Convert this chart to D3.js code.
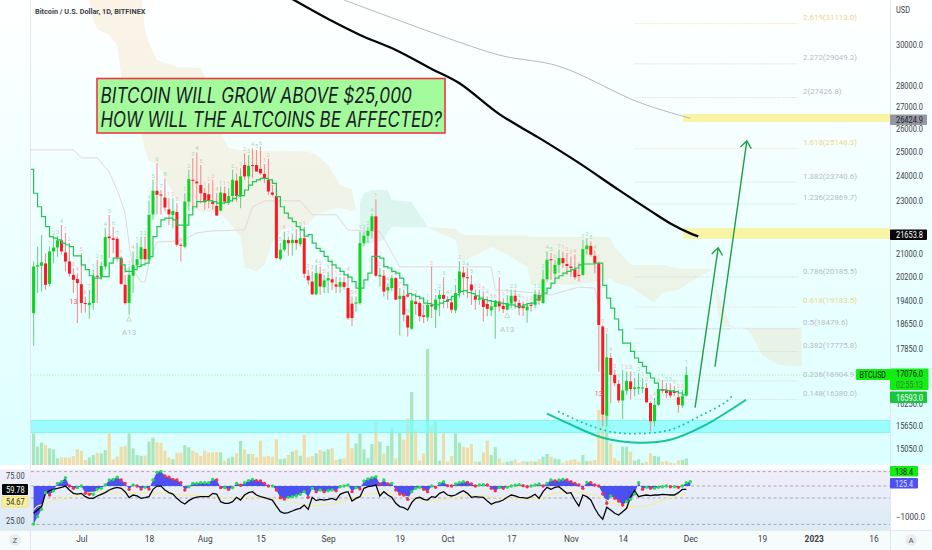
<!DOCTYPE html>
<html>
<head>
<title>Bitcoin / U.S. Dollar, 1D, BITFINEX</title>
<script src="https://d3js.org/d3.v7.min.js"></script>
<style>
html, body { margin: 0; padding: 0; background: #fff; overflow: hidden; }
text { font-family: Roboto, Arial, sans-serif; }
</style>
</head>
<body>
<div id="vis"></div>
<script>
// daily candles, first one is 19 Jun 2022
var opens = [18980,20550,20580,20660,19950,21090,21230,21490,21050,20730,20260,20120,19940,19310,19240,19310,20230,20200,20550,21630,21570,21550,20850,19920,19310,20230,20600,20810,21180,20810,22460,23390,23240,23120,22660,22440,22560,21330,21260,22960,23830,23760,23620,23300,23250,22960,22790,22610,23290,22920,23180,23800,23160,24440,23970,24440,24440,24280,24070,23830,23320,23180,20820,21150,21500,21390,21510,21350,21570,20230,
 20030,19600,20300,19840,20070,20110,19930,19850,20010,19810,19290,19290,19310,21390,21660,21840,22390,20200,20230,19730,19810,20150,19440,19550,18900,18480,19360,19310,18910,18840,19250,19090,19440,19580,19420,19330,19070,19640,20340,20180,19930,19550,19420,19440,19280,19070,19180,19360,19220,19090,19290,19550,19310,19220,19070,19250,19250,19580,19310,20110,20810,20300,20610,20850,20640,20550,20460,20260,20260,21170,21290,20930,
 20670,18550,15930,17580,17080,16820,16350,16630,16890,16670,16690,16690,16700,16280,15780,16230,16670,16650,16620,16620,16440,16210,16490];
var highs = [20730,21260,21690,21020,21260,21630,21650,22060,21760,21390,20490,20320,21020,19530,19750,20440,20790,20730,21940,22450,22000,21630,20920,20260,20550,21090,21390,21630,21630,23000,23830,24520,23420,23890,23090,23090,22900,21390,23290,24240,24720,24970,24440,23490,23690,23830,23290,23560,23560,23490,24240,24100,24310,24930,24860,25150,25080,25220,24470,24700,23620,23230,21390,21820,21630,21750,21900,21940,22000,20440,
 20380,20610,20550,20260,20380,20610,20200,20180,20200,20320,19530,19530,21820,21820,22000,22490,23050,20500,20440,19980,20260,20200,19810,19750,18930,19580,19530,19360,19250,19420,20550,19580,19750,20180,19530,19550,19920,20730,20550,20500,20260,19750,19750,19690,19530,19420,19420,20180,19470,19580,19750,19750,19420,19360,19310,19360,19750,19750,20440,21090,21030,20790,21150,21090,21030,20910,20970,20500,21510,21570,21450,21120,
 20730,18600,18330,17730,17230,16940,17230,17180,17180,16990,17130,16990,16840,16330,16420,16820,16940,16840,16840,16750,16650,16650,17330];
var lows = [17950,19640,19690,19750,19860,20670,20900,20970,20380,20200,19640,18660,18980,19000,18800,19090,19310,20090,20440,20850,21020,20730,19920,19260,18930,19640,20550,20550,20730,20760,22260,22460,22460,22580,22060,21940,21260,20730,21200,22580,22640,22700,22900,22640,22700,22640,22420,22580,22900,22830,22960,22960,22700,23830,23620,23900,24170,24030,23690,23230,23160,20810,20760,21090,20930,20930,21150,21260,20150,19920,
 19580,19580,19580,19640,19640,19750,19640,19640,19750,18760,18570,19030,19250,21270,21390,21570,20180,19860,19530,19420,19700,19420,18270,18710,18240,18450,18930,18710,18660,18710,18820,18500,18880,19140,19140,18980,18980,19470,19580,19470,19250,19090,19250,18710,18880,18880,18170,19030,18980,19070,19140,19120,18900,18880,18680,19030,19140,19250,19290,20030,20090,20180,20320,20500,20260,20200,20090,20030,20230,20970,20910,20320,
 17170,15640,15640,16280,16750,16280,15840,16510,16370,16470,16510,16560,16280,15510,15640,16190,16560,16420,16420,16470,16020,16140,16470];
var closes = [20550,20600,20700,19920,21090,21230,21490,21090,20730,20300,20090,19980,19310,19280,19320,20210,20200,20570,21610,21570,21510,20870,19950,19310,20260,20600,20810,21240,20810,22450,23390,23230,23200,22730,22470,22600,21330,21300,22960,23860,23800,23690,23290,22940,23000,22870,22420,23320,22960,23180,23830,23180,23970,23970,24410,24400,24170,24100,23870,23360,23230,20850,21150,21510,21390,21510,21390,21570,20300,20070,
 19600,20320,19860,20070,20150,20000,19860,20010,19850,18820,18820,19330,21390,21660,21840,22390,20230,20260,19690,19840,20150,19420,19550,18930,18520,19390,19280,18880,18860,19250,19200,19420,19580,19450,19360,19090,19640,20380,20180,20150,19730,19420,19470,19180,19120,19200,19390,19200,19110,19310,19550,19360,19140,19140,19200,19220,19600,19390,20110,20790,20790,20610,20850,20670,20570,20500,20180,20230,21170,21300,20970,20670,
 18600,15960,17600,17080,16840,16350,16630,16910,16670,16720,16730,16720,16300,15780,16230,16670,16630,16560,16490,16560,16230,16470,17080];
var volumes = [95,55,67,60,50,47,20,23,23,22,27,47,43,15,23,30,37,35,45,95,17,25,55,57,95,50,30,28,28,70,82,68,67,43,23,17,37,37,60,53,43,37,27,43,37,38,39,38,13,20,25,35,72,47,33,33,23,73,25,27,25,77,18,19,30,40,45,28,90,23,27,35,45,40,47,50,15,18,20,95,50,65,95,47,20,63,129,70,35,57,110,20,97,77,140,219,103,13,35,348,120,130,13,95,10,27,95,67,55,52,
 63,10,10,38,73,30,53,20,7,10,12,17,7,12,10,12,10,17,25,33,25,19,17,7,13,15,17,10,30,12,13,15,165,147,165,65,20,13,55,55,40,13,17,5,10,35,27,25,10,12,7,5,14,15,20];

// conversion line, first value belongs to the day before the first candle
var stepLine = [24260,23290,22760,22380,22000,21630,21570,21510,21390,21330,21260,20930,20930,20610,20440,20230,20150,20150,20200,20200,20670,20850,20850,20610,20380,20380,20440,20550,20610,20670,20900,21630,22000,22255,22320,22320,22255,22060,22060,22060,22450,22760,22960,22960,23000,23000,22960,22900,22900,22930,22990,23090,23200,23200,23420,23620,23760,23830,23890,23890,23830,23690,23160,22760,22510,22320,22190,22000,21880,21650,21700,
 21390,21200,21090,20910,20730,20610,20500,20380,20260,20180,20030,19810,19810,20090,20320,20910,20910,20850,20550,20500,20380,20320,20150,19920,19620,19580,19530,19470,19310,19290,19250,19250,19310,19360,19420,19530,19580,19700,19720,19660,19620,19550,19470,19420,19390,19360,19330,19310,19290,19250,19250,19200,19200,19250,19290,19310,19420,19550,19640,19810,19980,20150,20230,20320,20380,20440,20500,20610,20640,20640,20640,20670,20670,
 19900,19470,19140,18790,18447,18030,18030,17780,17580,17450,17330,17130,16990,16840,16650,16650,16630,16620,16600,16560,16510,16540];
var baseLine = [[-1,25079],[10,25079],[12,24740],[16,24740],[19,24150],[21,23424],[23,22520],[24,21360],[25,20436],[27,20020],[28,20020],[29,20680],[31,21430],[37,21470],[41,21770],[45,21840],[53,21879],[55,22750],[58,22990],[67,22990],[70,22450],[76,22450],[79,21879],[87,21810],[90,21040],[92,20540],[115,20540],[116,19750],[126,19650],[130,19580],[137,19840],[141,19810],[142,19190]];
var blackMa = [[63,32700],[75,31250],[82,30520],[91,29745],[100,28800],[107,28100],[117,26660],[127,25600],[137,24530],[147,23424],[155,22600],[160,22120],[165,21750],[167,21640]];
var grayMa = [[78,32395],[107,30140],[118,29440],[132,28930],[152,27210],[165,26470]];

// cloud rows: day, upper, lower
var cloudA = [[14,32950,32395],[15,32950,31308],[16,32950,30830],[19,32950,30520],[21,32950,30000],[22,32950,28500],[23,32950,26760],[27,32950,25820],[28,30778,25079],[29,30100,24610],[31,29242,24530],[36,28890,23028],[42,28840,22560],[44,28020,22560],[47,25820,22450],[49,25160,22180],[52,25079,21620],[53,25079,20540],[56,25040,20370],[58,25040,20610],[60,25040,21430],[63,25040,21950],[69,25000,22070],[71,24870,22450],[74,24450,22638],[77,23620,22710],[80,23424,22600],[81,22638,22638]];
var cloudB = [[82,22910,21250],[83,23300,21330],[85,23424,21400],[88,23424,21509],[89,23424,21810],[90,23028,21990],[95,22950,21990],[97,22450,21990],[99,22030,21990]];
var cloudC = [[99,21990,21950],[106,21920,21509],[107,21770,20890],[108,21690,20720],[110,21690,20890],[115,21660,21250],[120,21660,20890],[124,21660,20540],[125,21620,19920],[136,21620,19920],[144,21620,20090],[145,21580,20160],[146,21250,19990],[150,20610,19850],[156,20610,19320],[158,20610,19650],[162,20470,19750],[167,20470,20190],[170,20470,20400],[171,20260,20260]];
var cloudD = [[171,19850,19850],[172,19680,18930],[173,19250,18540],[175,18600,18540],[176,18540,18510],[178,18510,18510],[180,18510,18385],[183,18510,17680],[187,18510,17380],[193,18510,17320]];

var fibRatios = ["2.619","2.272","2","1.618","1.382","1.236","0.786","0.618","0.5","0.382","0.236","0.148"];
var fibPrices = [31113.0,29049.2,27426.8,25148.3,23740.6,22869.7,20185.5,19183.5,18479.6,17775.8,16904.9,16380.0];
var fibGold = ["2.619","1.618","0.618"];

var priceTicks = [30000,28000,27000,26000,25000,24000,23000,21000,20200,19400,18650,17850,16250,15650,15050];
var dayTicks = [12,29,43,57,74,92,104,120,135,148,165,183,196,211];
var dayLabels = ["Jul","18","Aug","15","Sep","19","Oct","17","Nov","14","Dec","19","2023","16"];

var cupSolid = [[129,15985],[135,15688],[143,15343],[152,15214],[160,15291],[168,15634],[179,16371]];
var cupDotted = [[132,16040],[138,15742],[145,15500],[152,15450],[160,15554],[168,15956],[174,16315],[176,16540]];
var arrowA = [[166.2,16150],[172,21220]];
var arrowB = [[171.2,17320],[179.2,25470]];

// lower pane: oscillator (right scale), rsi and its average (left scale)
var oscValues = [-1226,-989,-753,-215,-290,-161,86,140,269,0,-75,-54,0,-237,-269,-269,-108,-75,32,194,215,280,194,86,-108,32,0,-97,-43,-97,194,441,484,323,280,215,194,108,-129,-22,86,86,108,108,108,215,194,-54,-54,-108,-54,86,22,108,172,215,172,161,86,0,0,-129,-376,-419,-366,-344,-312,-269,-183,-366,-75,-183,-129,-183,-151,-129,-151,-22,0,32,-183,-54,-97,161,226,269,301,65,194,65,86,-129,-258,-290,-430,-183,-75,-43,-108,-183,0,-43,86,140,11,0,65,108,140,118,65,
 0,32,43,32,-75,-151,-54,-75,-43,0,22,43,11,-22,0,32,65,0,86,194,161,194,215,194,140,86,32,-75,118,108,32,0,-258,-559,-322,-398,-484,-613,-505,-430,-258,108,-108,-43,-75,-75,-43,-22,0,-22,-22,-43,0,108,138];
var rsiValues = [32.6,36.4,40.2,55.3,58.3,59.8,61,62.1,63.6,59.1,55.3,54.5,55.3,51.5,49.6,49.6,52.3,54.2,56.1,59.1,61,62.1,61,57.2,50.4,53.4,52.3,49.6,50.4,51.5,59.8,63.6,63.6,59.1,56.1,54.5,49.6,45.8,43.2,47,49.6,51.1,51.5,51.5,51.5,55.3,54.5,45.8,43.9,43.9,45.8,50.8,47.7,53.4,56.1,57.2,53.4,51.5,50.4,48.9,47.7,40.9,34.5,32.6,33.3,35.2,37.1,38.3,42,37.1,50.8,47,48.5,47.7,48.5,49.6,47.7,54.2,56.1,57.2,46.6,49.6,51.5,61,62.9,63.6,64.8,52.3,57.2,53.4,50.8,43.9,40.2,39,36.4,44.7,49.6,50.8,48.5,47.7,51.5,50.8,55.3,57.2,53.4,52.3,53.4,56.1,58.3,55.3,
 50.8,51.5,51.1,50.8,46.6,42.8,45.1,45.8,47.7,50.8,53.4,52.3,50.8,50.4,49.6,51.5,54.2,49.6,57.2,62.1,59.8,62.1,62.9,59.1,55.3,56.1,47.7,40.9,53.4,51.5,47.7,38.3,30.7,25.8,39.4,36.4,32.6,30.7,34.5,38.3,51.5,58.3,51.5,52.7,53.4,52.7,53.4,53.4,54.2,53.8,53.4,53.4,56.1,59.8,59.78];
var rsiAverage = [[0,36.4],[1,40.9],[3,43.2],[5,47.7],[7,49.6],[10,52.3],[12,54.5],[14,56.1],[18,57.2],[21,56.1],[25,55.3],[29,56.1],[33,55.3],[38,53.4],[42,52.7],[46,51.5],[50,49.6],[54,50.8],[58,49.6],[63,47.7],[67,43.2],[71,41.3],[75,43.2],[79,48.5],[83,53.4],[88,56.1],[92,53.4],[97,48.5],[101,47],[105,49.6],[109,52.7],[115,51.5],[119,49.6],[127,49.6],[131,55.3],[135,57.2],[140,54.5],[143,49.6],[146,43.9],[150,40.2],[155,42],[158,47.7],[164,54.67]];

var width = 932, height = 550;
var svg = d3.select('#vis').append('svg').attr('width', width).attr('height', height).style('display', 'block');
var defs = svg.append('defs');

var x = d3.scaleLinear().domain([0, 165]).range([33.6, 690.3]);
var y = d3.scaleLog().domain([15050, 30000]).range([449, 45]);
var yVol = d3.scaleLinear().domain([0, 300]).range([465, 365]);
var yRsi = d3.scaleLinear().domain([20, 80]).range([524.4, 471.6]);
var yOsc = d3.scaleLinear().domain([-1000, 0]).range([517, 486]);

function gradient(id, stops) {
    var g = defs.append('linearGradient').attr('id', id).attr('x1', 0).attr('x2', 0).attr('y1', 0).attr('y2', 1);
    stops.forEach(function(s) { g.append('stop').attr('offset', s[0]).attr('stop-color', s[1]); });
}
gradient('bgMain', [[0, '#ffffff'], [1, '#dcffff']]);
gradient('bgPane', [[0, '#f0eefa'], [1, '#dbebf6']]);
defs.append('clipPath').attr('id', 'plot').append('rect').attr('x', 31).attr('y', 0).attr('width', 859).attr('height', 465);
defs.append('marker').attr('id', 'head').attr('viewBox', '-9 -6 11 12').attr('markerWidth', 11).attr('markerHeight', 12)
    .attr('markerUnits', 'userSpaceOnUse').attr('orient', 'auto')
    .append('path').attr('d', 'M-7,-5.5L0,0L-7,5.5').attr('fill', 'none').attr('stroke', '#1f9e45').attr('stroke-width', 1.4);

// backgrounds
svg.append('rect').attr('width', width).attr('height', 465).attr('fill', 'url(#bgMain)');
svg.append('rect').attr('y', 530).attr('width', width).attr('height', 20).attr('fill', '#f6fbfc');
svg.append('rect').attr('y', 470).attr('width', 890).attr('height', 60).attr('fill', 'url(#bgPane)');

var plot = svg.append('g').attr('clip-path', 'url(#plot)');

// volume
plot.selectAll('.vol').data(volumes).enter().append('rect').attr('class', 'vol')
    .attr('x', function(d, i) { return x(i) - 1.6; })
    .attr('width', 3.2)
    .attr('y', function(d) { return yVol(d); })
    .attr('height', function(d) { return yVol(0) - yVol(d); })
    .attr('fill', function(d, i) { return closes[i] >= opens[i] ? '#a9e6bd' : '#f0dca8'; });

// support band
plot.append('rect').attr('x', 31).attr('width', 859)
    .attr('y', y(15795)).attr('height', y(15475) - y(15795))
    .attr('fill', '#7dfcfc').attr('fill-opacity', 0.7).attr('stroke', '#6ff2f2').attr('stroke-width', 0.7);

// cloud
var cloudArea = d3.area().x(function(d) { return x(d[0]); }).y0(function(d) { return y(d[2]); }).y1(function(d) { return y(d[1]); });
[cloudA, cloudC, cloudD].forEach(function(c) {
    plot.append('path').attr('d', cloudArea(c)).attr('fill', '#f2cd9a').attr('fill-opacity', 0.24);
});
plot.append('path').attr('d', cloudArea(cloudB)).attr('fill', '#9fd8bb').attr('fill-opacity', 0.24);

// fib levels
fibPrices.forEach(function(p, k) {
    var gold = fibGold.indexOf(fibRatios[k]) >= 0;
    plot.append('line').attr('x1', x(151)).attr('x2', 798).attr('y1', y(p)).attr('y2', y(p))
        .attr('stroke', gold ? '#f4dfae' : '#d4d7de').attr('stroke-width', 0.8).attr('stroke-dasharray', '1.5 1');
    svg.append('text').attr('x', 803).attr('y', y(p) - 3.5)
        .attr('font-size', 7.9).attr('fill', gold ? '#f0d48c' : '#b7bcc6')
        .text(fibRatios[k] + '(' + p.toFixed(1) + ')');
});
plot.append('line').attr('x1', x(151)).attr('x2', 730).attr('y1', y(18479.6)).attr('y2', y(18479.6)).attr('stroke', '#dddcec').attr('stroke-width', 1);

// close price line
plot.append('line').attr('x1', 31).attr('x2', 890).attr('y1', y(17076)).attr('y2', y(17076))
    .attr('stroke', '#b5edb5').attr('stroke-width', 1).attr('stroke-dasharray', '1.5 1.5');

// pale base line
var pts = d3.line().x(function(d) { return x(d[0]); }).y(function(d) { return y(d[1]); });
plot.append('path').attr('d', pts(baseLine)).attr('fill', 'none').attr('stroke', '#e6d6d8').attr('stroke-width', 1);

// candles
var idx = d3.range(closes.length);
plot.selectAll('.wick').data(idx).enter().append('line').attr('class', 'wick')
    .attr('x1', function(i) { return x(i); }).attr('x2', function(i) { return x(i); })
    .attr('y1', function(i) { return y(highs[i]); }).attr('y2', function(i) { return y(lows[i]); })
    .attr('stroke', function(i) { return closes[i] >= opens[i] ? '#6fd48c' : '#f58f94'; }).attr('stroke-width', 1.1);
plot.selectAll('.body').data(idx).enter().append('rect').attr('class', 'body')
    .attr('x', function(i) { return x(i) - 1.5; }).attr('width', 3)
    .attr('y', function(i) { return y(Math.max(opens[i], closes[i])); })
    .attr('height', function(i) { return Math.max(1, Math.abs(y(opens[i]) - y(closes[i]))); })
    .attr('fill', function(i) { return closes[i] >= opens[i] ? '#0fd41f' : '#ff1722'; });

// tiny setup counts above the candles
var up = 0, dn = 0;
idx.forEach(function(i) {
    if (i < 4) return;
    if (closes[i] > closes[i - 4]) { up = up % 9 + 1; dn = 0; } else if (closes[i] < closes[i - 4]) { dn = dn % 9 + 1; up = 0; }
    plot.append('text').attr('x', x(i)).attr('y', y(highs[i]) - 2).attr('text-anchor', 'middle')
        .attr('font-size', 5.5).attr('fill', up ? '#9fdcb4' : '#f5b8bb').text(up || dn);
});
[[10, 19285], [142, 16480]].forEach(function(m) {
    svg.append('text').attr('x', x(m[0])).attr('y', y(m[1])).attr('text-anchor', 'middle').attr('font-size', 7.5).attr('fill', '#f0616d').text('13');
});
[[24, 18790], [119, 18900]].forEach(function(m) {
    plot.append('path').attr('transform', 'translate(' + x(m[0]) + ',' + y(m[1]) + ')').attr('d', 'M-2.5,2L0,-2.5L2.5,2Z').attr('fill', 'none').attr('stroke', '#c7d9ad').attr('stroke-width', 0.9);
    svg.append('text').attr('x', x(m[0])).attr('y', y(m[1]) + 16).attr('text-anchor', 'middle').attr('font-size', 8).attr('fill', '#bcc2c6').text('A13');
});
plot.append('circle').attr('cx', x(94)).attr('cy', y(19560)).attr('r', 1.7).attr('fill', '#ff4455');

// conversion line
plot.append('path').datum(stepLine)
    .attr('d', d3.line().x(function(d, i) { return x(i - 1); }).y(function(d) { return y(d); }).curve(d3.curveStepAfter))
    .attr('fill', 'none').attr('stroke', '#22c654').attr('stroke-width', 1.2);

// yellow zones
[[26669, 26306], [21954, 21546]].forEach(function(b) {
    plot.append('rect').attr('x', x(163.2)).attr('width', 890 - x(163.2)).attr('y', y(b[0])).attr('height', y(b[1]) - y(b[0]))
        .attr('fill', '#f8f4a6');
});

// moving averages
plot.append('path').attr('d', pts.curve(d3.curveCatmullRom)(grayMa)).attr('fill', 'none').attr('stroke', '#b4b7bf').attr('stroke-width', 1);
plot.append('path').attr('d', pts(blackMa)).attr('fill', 'none').attr('stroke', '#060606').attr('stroke-width', 2.3);

// cup
plot.append('path').attr('d', pts(cupSolid)).attr('fill', 'none').attr('stroke', '#14c598').attr('stroke-width', 2);
plot.append('path').attr('d', pts(cupDotted)).attr('fill', 'none').attr('stroke', '#14c598').attr('stroke-width', 2)
    .attr('stroke-linecap', 'round').attr('stroke-dasharray', '0 5');

// arrows
var straight = d3.line().x(function(d) { return x(d[0]); }).y(function(d) { return y(d[1]); });
[arrowA, arrowB].forEach(function(a) {
    plot.append('path').attr('d', straight(a)).attr('fill', 'none').attr('stroke', '#1f9e45').attr('stroke-width', 1.4).attr('marker-end', 'url(#head)');
});

// headline box
svg.append('rect').attr('x', 97).attr('y', 78.5).attr('width', 348).attr('height', 54.5).attr('fill', '#a3fb9b').attr('stroke', '#f23645').attr('stroke-width', 1.6);
[['BITCOIN WILL GROW ABOVE $25,000', 311.5], ['HOW WILL THE ALTCOINS BE AFFECTED?', 341.5]].forEach(function(t, k) {
    svg.append('text').attr('x', 100.5).attr('y', 103 + k * 24).attr('font-size', 21).attr('font-style', 'italic')
        .style('font-family', 'Inter, Arial, sans-serif').attr('fill', '#1a1d26')
        .attr('textLength', t[1]).attr('lengthAdjust', 'spacingAndGlyphs').text(t[0]);
});

svg.append('text').attr('x', 35).attr('y', 14).attr('font-size', 7.3).attr('font-weight', 700).attr('fill', '#3b3f4a').text('Bitcoin / U.S. Dollar, 1D, BITFINEX');

// lower pane
[80, 50, 20].forEach(function(v) {
    svg.append('line').attr('x1', 31).attr('x2', 890).attr('y1', yRsi(v)).attr('y2', yRsi(v))
        .attr('stroke', '#a9acb3').attr('stroke-width', 1).attr('stroke-dasharray', '3 2.5');
});
svg.append('line').attr('x1', 31).attr('x2', 890).attr('y1', yOsc(0)).attr('y2', yOsc(0))
    .attr('stroke', '#a9acb3').attr('stroke-width', 1).attr('stroke-dasharray', '3 2.5');
svg.append('path').datum(oscValues)
    .attr('d', d3.area().x(function(d, i) { return x(i); }).y0(yOsc(0)).y1(function(d) { return yOsc(d); }))
    .attr('fill', '#4a50f2');
svg.append('path').datum(rsiAverage)
    .attr('d', d3.line().x(function(d) { return x(d[0]); }).y(function(d) { return yRsi(d[1]); }).curve(d3.curveCatmullRom))
    .attr('fill', 'none').attr('stroke', '#f5ee98').attr('stroke-width', 1.1);
svg.append('path').datum(rsiValues)
    .attr('d', d3.line().x(function(d, i) { return x(i); }).y(function(d) { return yRsi(d); }))
    .attr('fill', 'none').attr('stroke', '#050505').attr('stroke-width', 1.3);
svg.selectAll('.osc').data(oscValues).enter().append('circle').attr('class', 'osc')
    .attr('cx', function(d, i) { return x(i); }).attr('cy', function(d) { return yOsc(d); }).attr('r', 1.7)
    .attr('fill', function(d, i) { return i === 0 || d >= oscValues[i - 1] ? '#22e04c' : '#f22f4c'; });

// axes lines
svg.append('line').attr('x1', 30.5).attr('x2', 30.5).attr('y1', 0).attr('y2', 550).attr('stroke', '#e6e4ec');
svg.append('line').attr('x1', 890.5).attr('x2', 890.5).attr('y1', 0).attr('y2', 550).attr('stroke', '#e2e6ee');
svg.append('line').attr('x1', 0).attr('x2', 932).attr('y1', 530.5).attr('y2', 530.5).attr('stroke', '#e6eaf0');
svg.append('line').attr('x1', 0).attr('x2', 932).attr('y1', 469.5).attr('y2', 469.5).attr('stroke', '#f4f4f8');

var yAxis = svg.append('g').attr('transform', 'translate(890,0)')
    .call(d3.axisRight(y).tickValues(priceTicks).tickSize(0).tickPadding(6).tickFormat(d3.format('.1f')));
yAxis.select('.domain').remove();
yAxis.selectAll('text').attr('font-size', 8.4).attr('fill', '#3a3e48').attr('textLength', 27).attr('lengthAdjust', 'spacingAndGlyphs')
    .style('font-family', 'Roboto, Arial, sans-serif');

var xAxis = svg.append('g').attr('transform', 'translate(0,532)')
    .call(d3.axisBottom(x).tickValues(dayTicks).tickSize(0).tickPadding(4).tickFormat(function(d, k) { return dayLabels[k]; }));
xAxis.select('.domain').remove();
xAxis.selectAll('text').attr('font-size', 8.4).attr('fill', '#3a3e48').style('font-family', 'Roboto, Arial, sans-serif')
    .attr('font-weight', function(d, k) { return dayLabels[k] === '2023' ? 700 : 400; });

function label(px, py, t, color, len) {
    var s = svg.append('text').attr('x', px).attr('y', py).attr('font-size', 8.4).attr('fill', color || '#3a3e48').attr('dominant-baseline', 'central').text(t);
    if (len) s.attr('textLength', len).attr('lengthAdjust', 'spacingAndGlyphs');
}
label(896, 9.5, 'USD', null, 14);
label(6, 476, '75.00', null, 18.6);
label(6, 520.5, '25.00', null, 18.6);
label(896, 517, '\u22121000.0', null, 29);

// price tags
function tag(px, py, w, h, fill, t, color, stroke, pad, len) {
    svg.append('rect').attr('x', px).attr('y', py).attr('width', w).attr('height', h).attr('fill', fill).attr('rx', 1).attr('stroke', stroke || 'none');
    if (t) label(px + (pad || 6), py + h / 2 + 0.3, t, color, len || t.length * 3.85);
}
tag(890, 114.5, 37, 10.5, '#9598a1', '26424.9', '#20242c');
tag(890, 229.5, 37, 10.5, '#070707', '21653.8', '#ffffff');
tag(856, 369, 34, 11, '#12ee12', 'BTCUSD', '#0d1a0d', null, 3.5, 26.5);
tag(890, 368.5, 38.5, 21.5, '#12ee12', '', '#000');
label(896, 374, '17076.0', '#0d1a0d', 27);
label(896, 384.5, '02:55:13', '#3d7a3d', 27);
tag(890, 391.5, 37, 11.5, '#17c83d', '16593.0', '#ffffff');
tag(890, 466, 28, 10.5, '#12ee12', '138.4', '#0d1a0d', null, 5, 18);
tag(890, 478, 28, 10.5, '#4d50f5', '125.4', '#dfe0ff', null, 5, 18);
tag(2, 484, 26, 11, '#060606', '59.78', '#ffffff', null, 4, 18.6);
tag(2, 496.5, 26, 10.5, '#f8ee9c', '54.67', '#3a3a20', '#f0e282', 4, 18.6);

// scale buttons
[[15, 'Z'], [911, 'A']].forEach(function(b) {
    svg.append('circle').attr('cx', b[0]).attr('cy', 540).attr('r', 6).attr('fill', '#e9edf0');
    svg.append('text').attr('x', b[0]).attr('y', 540).attr('text-anchor', 'middle').attr('dominant-baseline', 'central').attr('font-size', 8).attr('fill', '#50535e').text(b[1]);
});
</script>
</body>
</html>
